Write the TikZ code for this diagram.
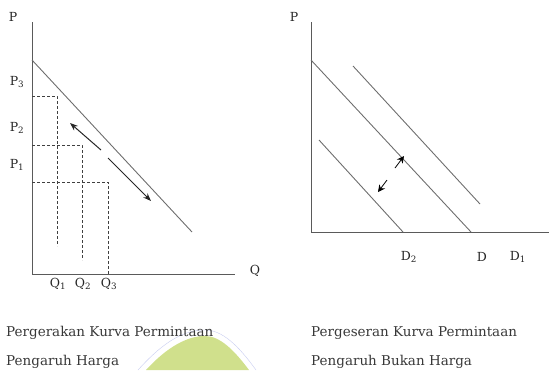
\documentclass[tikz,border=0pt]{standalone}
\usepackage{fontspec}
\setmainfont{DejaVu Serif}
\usepackage{xcolor}
\usetikzlibrary{arrows.meta, positioning}
\definecolor{axisgray}{RGB}{90,90,90}
\definecolor{linegray}{RGB}{110,110,110}
\definecolor{wmgreen}{RGB}{208,224,140}
\definecolor{wmblue}{RGB}{200,205,240}

\begin{document}
\begin{tikzpicture}[
    x=1pt, y=-1pt,
    axis/.style={draw=axisgray,line width=1pt},
    curve/.style={draw=linegray,line width=0.9pt},
    guide/.style={draw=black!75,line width=0.8pt,dash pattern=on 3pt off 2pt},
    move/.style={-{Stealth[length=8pt,width=6pt]},black!85,line width=1pt},
    shiftarrow/.style={-{Stealth[length=7pt,width=7pt]},black,line width=0.8pt},
    lbl/.style={font=\fontsize{12.5}{14}\selectfont,text=black!85,inner sep=1pt},
    caption/.style={font=\fontsize{13.5}{15}\selectfont,text=black!78,anchor=west,inner sep=0pt}
  ]
  \useasboundingbox (0,0) rectangle (549,370);

  % Watermark
  \draw[wmblue,line width=0.4pt] (138,370) .. controls (165,340) and (185,330) .. (205,330)
    .. controls (222,330) and (238,345) .. (256,370);
  \fill[wmgreen] (146,370) .. controls (168,346) and (188,336) .. (205,336)
    .. controls (220,336) and (234,350) .. (249,370) -- cycle;

  % Left panel: movement along the curve
  \coordinate (lo) at (32,274);
  \coordinate (ltop) at (32,22);
  \coordinate (lright) at (235,274);
  \draw[axis] (ltop) -- (lo) -- (lright);
  \node[lbl] (lP) at (13,17) {P};
  \node[lbl] (lQ) at (255,271) {Q};

  \coordinate (da) at (32,60);
  \coordinate (db) at (192,232);
  \draw[curve] (da) -- (db);

  \node[lbl] (p3) at (17,82) {P\textsubscript{3}};
  \node[lbl] (p2) at (17,128) {P\textsubscript{2}};
  \node[lbl] (p1) at (17,165) {P\textsubscript{1}};

  \coordinate (y3) at (32,96);
  \coordinate (y2) at (32,145);
  \coordinate (y1) at (32,182);
  \coordinate (c1) at (57,96);
  \coordinate (c2) at (82,145);
  \coordinate (c3) at (108,182);
  \coordinate (e1) at (57,246);
  \coordinate (e2) at (82,260);
  \coordinate (e3) at (108,274);
  \draw[guide] (y3) -- (c1) -- (e1);
  \draw[guide] (y2) -- (c2) -- (e2);
  \draw[guide] (y1) -- (c3) -- (e3);

  \node[lbl] (q1) at (58,284) {Q\textsubscript{1}};
  \node[lbl] (q2) at (83,284) {Q\textsubscript{2}};
  \node[lbl] (q3) at (109,284) {Q\textsubscript{3}};

  \coordinate (au) at (70,123);
  \coordinate (am1) at (101,150);
  \coordinate (am2) at (108,158);
  \coordinate (ad) at (151,201);
  \draw[move] (am1) -- (au);
  \draw[move] (am2) -- (ad);

  % Right panel: shift of the curve
  \coordinate (ro) at (311,232);
  \coordinate (rtop) at (311,22);
  \coordinate (rright) at (549,232);
  \draw[axis] (rtop) -- (ro) -- (rright);
  \node[lbl] (rP) at (294,17) {P};

  \coordinate (d0) at (311,60);
  \coordinate (d1) at (471,232);
  \coordinate (dup0) at (353,66);
  \coordinate (dup1) at (480,204);
  \coordinate (ddn0) at (319,140);
  \coordinate (ddn1) at (403,232);
  \draw[curve] (d0) -- (d1);
  \draw[curve] (dup0) -- (dup1);
  \draw[curve] (ddn0) -- (ddn1);

  \coordinate (su0) at (395,168);
  \coordinate (su1) at (404,156);
  \coordinate (sd0) at (387,180);
  \coordinate (sd1) at (378,192);
  \draw[shiftarrow] (su0) -- (su1);
  \draw[shiftarrow] (sd0) -- (sd1);

  \node[lbl] (dlow) at (409,257) {D\textsubscript{2}};
  \node[lbl] (dmid) at (482,257) {D};
  \node[lbl] (dhigh) at (518,257) {D\textsubscript{1}};

  % Captions
  \node[caption] (capL1) at (6,333) {Pergerakan Kurva Permintaan};
  \node[caption] (capL2) at (6,362) {Pengaruh Harga};
  \node[caption] (capR1) at (311,333) {Pergeseran Kurva Permintaan};
  \node[caption] (capR2) at (311,362) {Pengaruh Bukan Harga};

\end{tikzpicture}
\end{document}
